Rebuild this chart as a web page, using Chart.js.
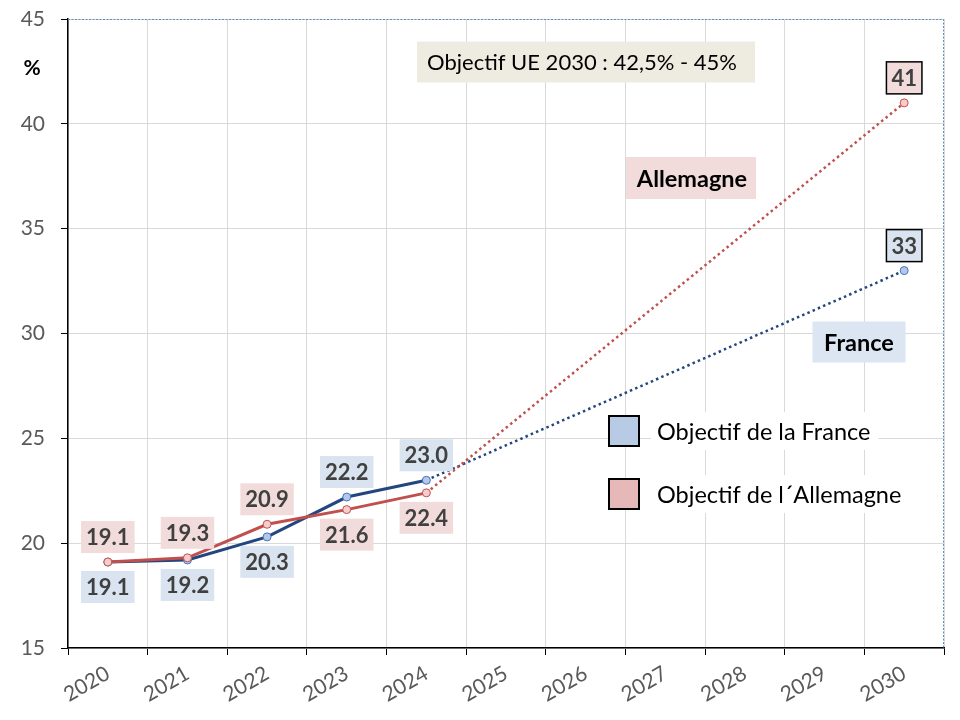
<!DOCTYPE html>
<html>
<head>
<meta charset="utf-8">
<script src="https://cdn.jsdelivr.net/npm/chart.js@4.4.1/dist/chart.umd.min.js"></script>
<style>
  html, body { margin: 0; padding: 0; background: #fff; }
  #wrap { width: 960px; height: 720px; }
</style>
</head>
<body>
<div id="wrap"><canvas id="chart" width="960" height="720"></canvas></div>
<script>
// data
const years = ["2020", "2021", "2022", "2023", "2024", "2025", "2026", "2027", "2028", "2029", "2030"];
const france = [19.1, 19.2, 20.3, 22.2, 23.0, null, null, null, null, null, 33];
const allemagne = [19.1, 19.3, 20.9, 21.6, 22.4, null, null, null, null, null, 41];
const franceLabels = ["19.1", "19.2", "20.3", "22.2", "23.0", "", "", "", "", "", "33"];
const allemagneLabels = ["19.1", "19.3", "20.9", "21.6", "22.4", "", "", "", "", "", "41"];
const yTicks = [15, 20, 25, 30, 35, 40, 45];

// where each value label sits (+1 above the point, -1 below)
const franceSide = [-1, -1, -1, 1, 1, 0, 0, 0, 0, 0, 1];
const allemagneSide = [1, 1, 1, -1, -1, 0, 0, 0, 0, 0, 1];

const FONT = "Lato, 'Open Sans', sans-serif";
const BLUE = "#23467e";
const RED = "#c0504d";

function dottedLast() {
  return {
    borderDash: (ctx) => (ctx.p1DataIndex === years.length - 1 ? [2.5, 3.2] : undefined),
    borderWidth: (ctx) => (ctx.p1DataIndex === years.length - 1 ? 2.5 : undefined),
  };
}

function box(ctx, cx, cy, w, h, fill, stroke) {
  ctx.fillStyle = fill;
  ctx.fillRect(cx - w / 2, cy - h / 2, w, h);
  if (stroke) {
    ctx.strokeStyle = stroke;
    ctx.lineWidth = 1.5;
    ctx.strokeRect(cx - w / 2, cy - h / 2, w, h);
  }
}

const overlay = {
  id: "overlay",
  afterDatasetsDraw(chart) {
    const ctx = chart.ctx;
    const area = chart.chartArea;
    ctx.save();

    // dotted frame on top and right
    ctx.strokeStyle = "#5f8fb8";
    ctx.lineWidth = 1;
    ctx.setLineDash([2, 1.5]);
    ctx.beginPath();
    ctx.moveTo(area.left, area.top + 0.5);
    ctx.lineTo(area.right - 0.5, area.top + 0.5);
    ctx.lineTo(area.right - 0.5, area.bottom);
    ctx.stroke();
    ctx.setLineDash([]);

    // value labels
    const sets = [
      { meta: chart.getDatasetMeta(0), texts: franceLabels, side: franceSide, fill: "#dae3f0" },
      { meta: chart.getDatasetMeta(1), texts: allemagneLabels, side: allemagneSide, fill: "#f2dcdb" },
    ];
    ctx.font = "bold 22px " + FONT;
    ctx.textAlign = "center";
    ctx.textBaseline = "middle";
    sets.forEach((s) => {
      s.meta.data.forEach((pt, i) => {
        if (!s.side[i]) return;
        const cy = pt.y - s.side[i] * 25;
        const w = ctx.measureText(s.texts[i]).width + 10;
        const last = i === years.length - 1;
        box(ctx, pt.x, cy, w, 32, s.fill, last ? "#000" : null);
        ctx.fillStyle = "#404040";
        ctx.fillText(s.texts[i], pt.x, cy + 1);
      });
    });

    // annotations
    ctx.font = "22px " + FONT;
    box(ctx, area.left + 518, area.top + 43, 338, 41, "#eeece1");
    ctx.fillStyle = "#000";
    ctx.fillText("Objectif UE 2030 : 42,5% - 45%", area.left + 514, area.top + 44);

    ctx.font = "bold 23.5px " + FONT;
    box(ctx, area.left + 623, area.top + 159, 130, 42, "#f2dcdb");
    ctx.fillStyle = "#000";
    ctx.fillText("Allemagne", area.left + 624, area.top + 160);

    box(ctx, area.left + 791, area.top + 323, 93, 41, "#dce6f2");
    ctx.fillStyle = "#000";
    ctx.fillText("France", area.left + 791, area.top + 324);

    // legend
    const legend = [
      { text: "Objectif de la France", fill: "#b7cbe4", y: area.top + 412 },
      { text: "Objectif de l\u00b4Allemagne", fill: "#e6b9b8", y: area.top + 475 },
    ];
    ctx.font = "23.5px " + FONT;
    ctx.textAlign = "left";
    legend.forEach((l) => {
      const tw = ctx.measureText(l.text).width;
      ctx.fillStyle = "#fff";
      ctx.fillRect(area.left + 583, l.y - 19, tw + 14, 38);
      ctx.fillStyle = l.fill;
      ctx.fillRect(area.left + 541, l.y - 15, 30, 30);
      ctx.strokeStyle = "#000";
      ctx.lineWidth = 2;
      ctx.strokeRect(area.left + 541, l.y - 15, 30, 30);
      ctx.fillStyle = "#000";
      ctx.fillText(l.text, area.left + 589, l.y + 1);
    });

    // unit
    ctx.font = "bold 21px " + FONT;
    ctx.textAlign = "center";
    ctx.fillText("%", 32, area.top + 49);

    ctx.restore();
  },
};

new Chart(document.getElementById("chart"), {
  type: "line",
  data: {
    labels: years,
    datasets: [
      {
        label: "Objectif de la France",
        data: france,
        borderColor: BLUE,
        borderWidth: 3,
        pointRadius: 4,
        pointBorderWidth: 1,
        pointBackgroundColor: "#b4c7e7",
        pointBorderColor: "#4472c4",
        spanGaps: true,
        order: 1,
        segment: dottedLast(),
      },
      {
        label: "Objectif de l\u00b4Allemagne",
        data: allemagne,
        borderColor: RED,
        borderWidth: 3,
        pointRadius: 4,
        pointBorderWidth: 1,
        pointBackgroundColor: "#f4cccc",
        pointBorderColor: RED,
        spanGaps: true,
        order: 0,
        segment: dottedLast(),
      },
    ],
  },
  options: {
    responsive: false,
    animation: false,
    events: [],
    layout: { autoPadding: false, padding: { top: 19, right: 16, left: 0, bottom: 0 } },
    plugins: { legend: { display: false }, tooltip: { enabled: false } },
    scales: {
      x: {
        offset: true,
        grid: { offset: true, color: "#d9d9d9", tickColor: "#000", tickLength: 7 },
        border: { color: "#000", width: 1.5 },
        ticks: {
          color: "#595959",
          font: { family: FONT, size: 21 },
          minRotation: 30,
          maxRotation: 30,
          padding: 6,
        },
        afterFit(scale) { scale.height = 72; },
      },
      y: {
        min: 15,
        max: 45,
        afterBuildTicks(scale) { scale.ticks = yTicks.map((v) => ({ value: v })); },
        grid: { color: "#d9d9d9", tickColor: "#000", tickLength: 7 },
        border: { color: "#000", width: 1.5 },
        ticks: {
          color: "#595959",
          font: { family: FONT, size: 21 },
          padding: 16,
        },
        afterFit(scale) { scale.width = 68; scale.paddingTop = 0; },
      },
    },
  },
  plugins: [overlay],
});
</script>
</body>
</html>
